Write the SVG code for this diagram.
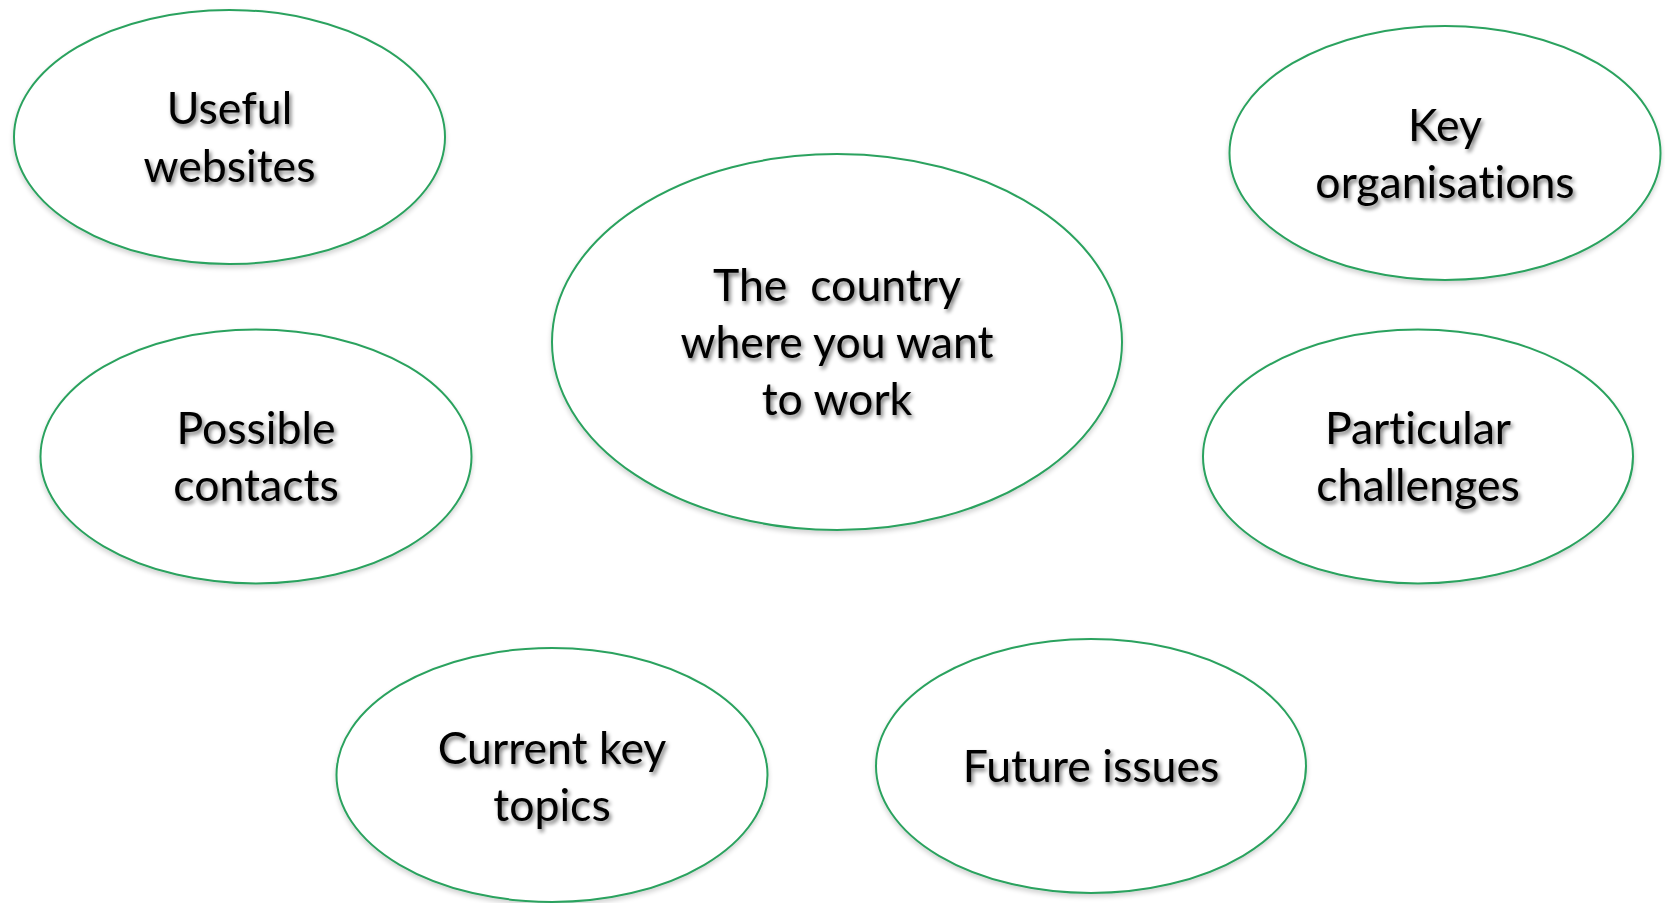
<svg xmlns="http://www.w3.org/2000/svg" width="1665" height="903" viewBox="0 0 1665 903">
<defs>
<filter id="tshadow" x="-10%" y="-20%" width="120%" height="150%">
<feGaussianBlur in="SourceAlpha" stdDeviation="2"/>
<feOffset dx="2" dy="3" result="b"/>
<feComponentTransfer in="b" result="s"><feFuncA type="linear" slope="0.55"/></feComponentTransfer>
<feMerge><feMergeNode in="s"/><feMergeNode in="SourceGraphic"/></feMerge>
</filter>
<filter id="eshadow" x="-5%" y="-5%" width="110%" height="115%">
<feGaussianBlur in="SourceAlpha" stdDeviation="2.5"/>
<feOffset dx="0" dy="3" result="b"/>
<feComponentTransfer in="b" result="s"><feFuncA type="linear" slope="0.18"/></feComponentTransfer>
<feMerge><feMergeNode in="s"/><feMergeNode in="SourceGraphic"/></feMerge>
</filter>
</defs>
<style>
.node ellipse{fill:#ffffff;stroke:#2ba25e;stroke-width:2;filter:url(#eshadow)}
.node text{font-family:Lato,"Open Sans","Liberation Sans",sans-serif;font-size:44.6px;fill:#000;text-anchor:middle;font-variant-ligatures:none;filter:url(#tshadow)}
</style>
<rect width="1665" height="903" fill="#ffffff"/>
<g id="connectors"></g>
<g id="useful-websites" class="node">
<ellipse cx="229.5" cy="137" rx="215.5" ry="127"/>
<text x="229.5" y="124">Useful</text>
<text x="229.5" y="182">websites</text>
</g>
<g id="key-organisations" class="node">
<ellipse cx="1445" cy="153" rx="215.5" ry="127"/>
<text x="1445" y="141">Key</text>
<text x="1445" y="198">organisations</text>
</g>
<g id="country" class="node">
<ellipse cx="837" cy="342" rx="285" ry="188"/>
<text x="837" y="301" xml:space="preserve">The  country</text>
<text x="837" y="358">where you want</text>
<text x="837" y="415">to work</text>
</g>
<g id="possible-contacts" class="node">
<ellipse cx="256" cy="456.5" rx="215.5" ry="127"/>
<text x="256" y="444">Possible</text>
<text x="256" y="501">contacts</text>
</g>
<g id="particular-challenges" class="node">
<ellipse cx="1418" cy="456.5" rx="215" ry="127"/>
<text x="1418" y="444">Particular</text>
<text x="1418" y="501">challenges</text>
</g>
<g id="current-key-topics" class="node">
<ellipse cx="552" cy="775" rx="215.5" ry="127"/>
<text x="552" y="764">Current key</text>
<text x="552" y="821">topics</text>
</g>
<g id="future-issues" class="node">
<ellipse cx="1091" cy="766" rx="215" ry="127"/>
<text x="1091" y="782">Future issues</text>
</g>
</svg>
